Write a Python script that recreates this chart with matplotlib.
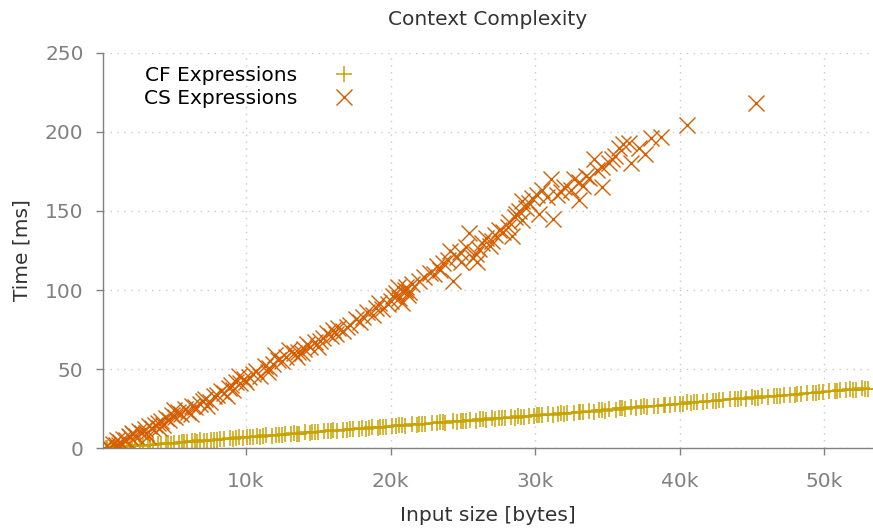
import matplotlib
matplotlib.use("Agg")
import matplotlib.pyplot as plt
from matplotlib.ticker import FuncFormatter

# ── data (input size in kB, time in ms) ───────────────────
cf_kb = [0.15, 0.4, 0.7, 0.9, 1.2, 1.5, 1.8, 2.0, 2.3, 2.7, 2.9, 3.2, 3.6, 3.9,
         4.1, 4.5, 4.8, 5.0, 5.4, 5.7, 5.9, 6.3, 6.6, 6.8, 7.3, 7.6, 7.8, 8.2,
         8.5, 8.9, 9.1, 9.5, 9.8, 10.1, 10.5, 10.8, 11.0, 11.4, 11.8, 12.1,
         12.3, 12.7, 13.1, 13.3, 13.7, 14.1, 14.4, 14.6, 15.0, 15.4, 15.7,
         16.0, 16.3, 16.7, 17.0, 17.4, 17.8, 18.0, 18.3, 18.7, 19.1, 19.3,
         19.7, 20.1, 20.4, 20.6, 21.0, 21.5, 21.8, 22.0, 22.4, 22.9, 23.2,
         23.4, 23.8, 24.3, 24.6, 24.9, 25.2, 25.5, 25.9, 26.2, 26.6, 27.0,
         27.2, 27.5, 27.9, 28.3, 28.6, 28.8, 29.2, 29.6, 29.9, 30.1, 30.5,
         30.9, 31.2, 31.6, 32.0, 32.2, 32.7, 33.0, 33.3, 33.7, 34.1, 34.4,
         34.8, 35.1, 35.6, 35.9, 36.2, 36.6, 37.0, 37.3, 37.7, 38.2, 38.5,
         38.9, 39.3, 39.7, 40.2, 40.5, 40.8, 41.2, 41.6, 41.9, 42.3, 42.7,
         43.0, 43.5, 43.8, 44.2, 44.6, 45.0, 45.4, 45.7, 46.1, 46.5, 46.9,
         47.2, 47.6, 48.1, 48.4, 48.8, 49.2, 49.6, 49.9, 50.3, 50.7, 51.1,
         51.5, 51.8, 52.2, 52.6, 53.0,
         0.3, 1.0, 2.1, 3.4, 4.6, 5.6, 6.5, 7.1, 8.0, 9.3, 10.3, 11.2, 12.5,
         13.5, 14.8, 15.9, 17.2, 18.5, 19.5, 20.8, 22.2, 23.6, 25.0, 26.4,
         27.7, 29.0, 30.3, 31.8, 33.1, 34.6, 36.0, 37.5, 39.0, 40.0, 41.0,
         42.5, 44.0, 45.2, 46.7, 48.0, 49.4, 50.9, 52.0, 52.8]
cf_ms = [0.1, 0.4, 0.2, 0.8, 0.6, 1.2, 1.0, 1.6, 1.3, 2.1, 1.7, 2.4, 2.2, 2.9,
         2.6, 3.3, 3.0, 3.7, 3.4, 4.2, 3.9, 4.6, 4.3, 5.0, 4.9, 5.5, 5.2, 6.0,
         5.7, 6.4, 6.1, 6.9, 6.5, 7.3, 7.0, 7.8, 7.4, 8.2, 7.9, 8.7,
         8.4, 9.1, 8.8, 9.6, 9.3, 10.1, 9.8, 10.5, 10.2, 11.0, 10.7,
         11.4, 11.1, 11.9, 11.6, 12.4, 12.1, 12.8, 12.5, 13.3, 13.0, 13.7,
         13.4, 14.2, 13.9, 14.6, 14.3, 15.1, 14.8, 15.5, 15.2, 16.1, 15.8,
         16.5, 16.2, 17.0, 16.7, 17.5, 17.2, 17.9, 17.6, 18.4, 18.1, 18.9,
         18.6, 19.3, 19.0, 19.8, 19.5, 20.2, 19.9, 20.7, 20.4, 21.1, 20.8,
         21.6, 21.3, 22.0, 21.7, 22.5, 22.2, 23.0, 22.7, 23.4, 23.3, 24.1,
         23.9, 24.7, 24.5, 25.3, 25.1, 25.9, 25.6, 26.4, 26.2, 27.0, 26.8,
         27.6, 27.3, 28.2, 28.0, 29.6, 28.6, 29.5, 29.2, 30.0, 29.7, 30.6,
         30.3, 31.1, 30.9, 31.7, 31.4, 32.3, 32.0, 32.9, 32.6, 33.4, 33.1,
         34.0, 33.7, 34.6, 34.3, 35.2, 34.9, 35.8, 35.5, 36.3, 36.1, 36.8,
         36.6, 37.4, 37.1, 37.9, 37.6,
         0.2, 0.5, 1.4, 2.3, 3.2, 3.9, 4.5, 4.8, 5.6, 6.5, 7.0, 7.7, 8.7,
         9.4, 10.3, 11.1, 12.0, 12.9, 13.5, 14.5, 15.4, 16.4, 17.3, 18.3,
         19.2, 20.1, 21.0, 22.1, 23.0, 24.0, 25.3, 26.5, 27.6, 28.3, 29.0,
         30.1, 31.1, 32.0, 33.0, 34.0, 35.0, 36.0, 36.8, 37.3]

cs_kb = [0.2, 0.4, 0.6, 0.8, 1.0, 1.1, 1.3, 1.5, 1.7, 1.9, 2.0, 2.2, 2.4, 2.6,
         2.8, 3.0, 3.1, 3.3, 3.5, 3.7, 3.9, 4.1, 4.3, 4.5, 4.7, 4.9, 5.1, 5.3,
         5.5, 5.8, 6.0, 6.3, 6.5, 6.8, 7.0, 7.2, 7.5, 7.8, 8.0, 8.3, 8.5, 8.8,
         9.0, 9.1, 9.3, 9.6, 9.9, 10.2, 10.5, 10.7, 11.0, 11.3, 11.6, 11.9,
         12.2, 12.5, 12.8, 13.0, 13.3, 13.6, 13.9, 14.2, 14.4, 14.8, 15.1,
         15.3, 15.6, 15.9, 16.0, 16.4, 16.7, 17.2, 17.6, 18.1, 18.4, 18.8,
         19.0, 19.4, 19.8, 20.0, 20.2, 20.4, 20.6, 20.8, 21.0, 21.1, 21.3,
         21.5, 22.3, 22.7, 23.0, 23.4, 23.6, 24.0, 24.1, 24.3, 24.6, 24.9,
         25.2, 25.4, 25.7, 25.9, 26.1, 26.3, 26.6, 26.9, 27.2, 27.5, 27.8,
         28.1, 28.4, 28.6, 28.7, 28.9, 29.1, 29.1, 29.4, 29.8, 30.1, 30.3,
         30.5, 30.8, 31.1, 31.2, 31.5, 32.0, 32.5, 32.7, 33.0, 33.0, 33.3,
         33.7, 34.1, 34.3, 34.6, 34.6, 35.1, 35.5, 35.8, 36.1, 36.5, 36.6,
         37.2, 37.6, 38.0, 38.7, 40.5, 45.3,
         1.2, 2.1, 3.2, 4.0, 5.0, 6.2, 7.3, 8.7, 9.5, 10.0, 11.5, 12.0, 13.5,
         14.0, 15.0, 16.2, 17.0, 17.9, 19.2, 20.5, 21.2, 22.0, 23.2, 24.8,
         26.0, 27.0, 28.2, 29.6, 31.8, 33.5, 35.3]
cs_ms = [0.5, 1.5, 0.3, 3, 2, 5, 4, 6, 5, 8, 7, 9, 8, 11,
         10, 12, 10, 14, 13, 15, 16, 17, 15, 19, 18, 21, 20, 23,
         22, 25, 23, 27, 26, 28, 30, 31, 29, 33, 34, 36, 35, 38,
         40, 37, 42, 41, 44, 45, 47, 49, 46, 52, 51, 53,
         56, 55, 58, 62, 60, 61, 60, 66, 64, 67, 68,
         70, 73, 71, 75, 76, 74, 78, 82, 83, 86, 84,
         89, 88, 91, 93, 96, 98, 95, 92, 100, 102, 99,
         104, 108, 111, 110, 113, 117, 119, 125, 106, 121, 118,
         127, 136, 120, 123, 126, 130, 133, 128, 135, 138, 137,
         140, 134, 146, 148, 150, 156, 144, 152, 158, 160, 148,
         163, 159, 170, 145, 160, 165, 163, 170, 168, 157, 166,
         171, 183, 176, 178, 165, 180, 185, 190, 192, 193, 180,
         190, 186, 196, 197, 204, 218,
         2, 10, 8, 13, 24, 22, 27, 33, 46, 42, 48, 59, 58,
         63, 64, 72, 77, 80, 92, 102, 97, 106, 115, 124,
         118, 131, 143, 155, 162, 172, 183]

x_ticks = [10000, 20000, 30000, 40000, 50000]
y_ticks = [0, 50, 100, 150, 200, 250]

CF_COLOR = "#c9a200"
CS_COLOR = "#d55e00"
GRAY = "#808080"

plt.rcParams["font.family"] = "DejaVu Sans"

fig = plt.figure(figsize=(8.73, 5.30), dpi=100)
ax = fig.add_axes([0.118, 0.154, 0.881, 0.7466])

ax.plot([v * 1000 for v in cf_kb], cf_ms, linestyle="none", marker="+",
        markersize=11.5, markeredgewidth=1.1, color=CF_COLOR,
        label="CF Expressions")
ax.plot([v * 1000 for v in cs_kb], cs_ms, linestyle="none", marker="x",
        markersize=11.5, markeredgewidth=1.0, color=CS_COLOR,
        label="CS Expressions")

ax.set_xlim(120, 53300)
ax.set_ylim(0, 250)
ax.set_xticks(x_ticks)
ax.set_yticks(y_ticks)
ax.xaxis.set_major_formatter(FuncFormatter(lambda v, _: f"{int(v / 1000)}k"))

ax.grid(True, color="#c8c8c8", linestyle=(0, (1, 4)), linewidth=1.0)
ax.set_axisbelow(True)

for side in ["top", "right"]:
    ax.spines[side].set_visible(False)
for side in ["left", "bottom"]:
    ax.spines[side].set_color(GRAY)
    ax.spines[side].set_linewidth(1.0)

ax.tick_params(direction="out", length=5, width=1.0, color=GRAY,
               labelcolor=GRAY, labelsize=14.5)
ax.tick_params(axis="y", pad=9)
ax.tick_params(axis="x", pad=12)

ax.set_xlabel("Input size [bytes]", fontsize=14.5, color="#333333",
              labelpad=11)
ax.set_ylabel("Time [ms]", fontsize=14.5, color="#333333", labelpad=10)
ax.set_title("Context Complexity", fontsize=14.5, color="#333333", pad=20)

ax.legend(loc="upper left", bbox_to_anchor=(0.03, 1.012), frameon=False,
          markerfirst=False, fontsize=14.5, handlelength=2.2,
          labelspacing=0.2, handletextpad=1.2)

fig.savefig("out.png", dpi=100)
